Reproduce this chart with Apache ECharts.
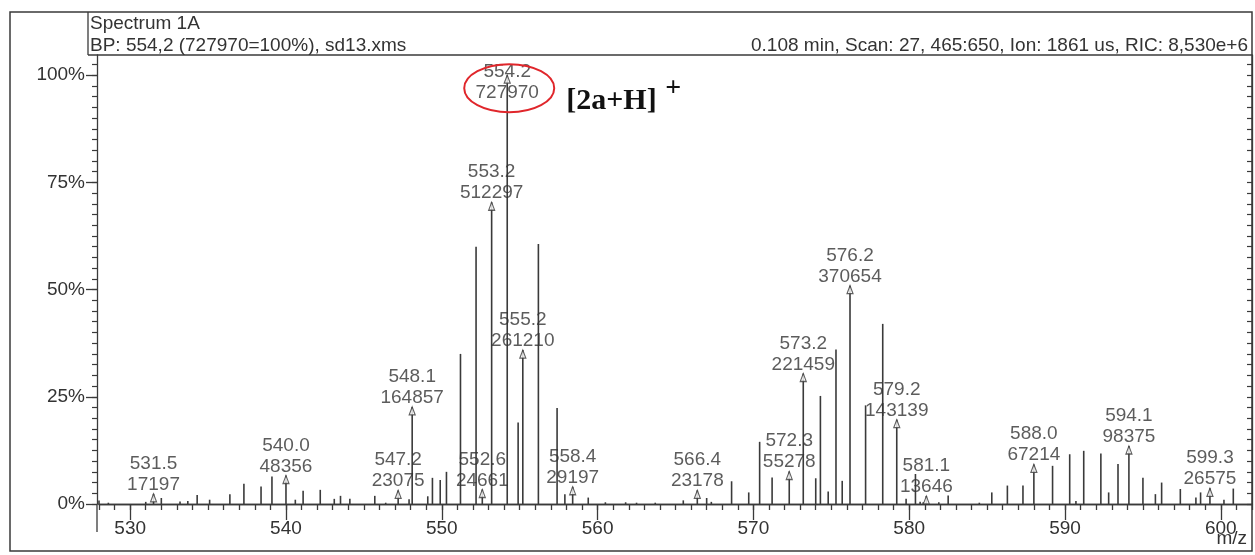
<!DOCTYPE html>
<html><head><meta charset="utf-8">
<script src="https://cdn.jsdelivr.net/npm/echarts@6/dist/echarts.min.js"></script>
<style>html,body{margin:0;padding:0;background:#fff}#c{width:1255px;height:555px}</style>
</head><body><div id="c"></div>
<script>
// ---------- data ----------
const basePeakIntensity = 727970;
// unlabelled sticks: m/z and relative intensity (%)
const peakMz = [528.0,528.6,531.0,532.0,533.2,533.7,534.3,535.1,536.4,537.3,538.4,539.1,540.6,541.1,542.2,543.1,543.5,544.1,545.7,546.4,547.9,549.1,549.4,549.9,550.3,551.2,552.2,554.9,556.2,557.4,557.9,559.4,560.5,561.8,562.5,563.7,565.5,567.0,567.3,568.6,569.7,570.4,571.2,574.0,574.3,574.8,575.3,575.7,577.2,578.3,579.8,580.4,580.7,580.9,581.9,582.5,584.5,585.3,586.3,587.3,589.2,590.3,590.7,591.2,592.3,592.8,593.4,595.0,595.8,596.2,597.4,598.4,598.7,600.2,600.8];
const peakPct = [0.8,0.3,0.5,1.4,0.6,0.7,2.1,1.0,2.3,4.7,4.1,6.4,1.0,3.1,3.3,1.2,1.9,1.2,1.9,0.3,1.1,1.8,6.1,5.6,7.5,35.0,60.0,19.0,60.6,22.4,2.3,1.5,0.4,0.4,0.3,0.3,0.85,1.4,0.5,5.3,2.7,14.5,6.2,6.0,25.2,2.9,36.0,5.4,23.0,42.0,1.2,7.0,0.5,0.4,0.4,2.0,0.3,2.7,4.3,4.3,8.9,11.6,0.7,12.4,11.8,2.7,9.3,6.1,2.3,5.0,3.5,1.5,2.7,1.0,3.6];
// labelled peaks: m/z and absolute intensity
const labelMz = [531.5,540.0,547.2,548.1,552.6,553.2,554.2,555.2,558.4,566.4,572.3,573.2,576.2,579.2,581.1,588.0,594.1,599.3];
const labelIntensity = [17197,48356,23075,164857,24661,512297,727970,261210,29197,23178,55278,221459,370654,143139,13646,67214,98375,26575];
// axis ticks
const xMajorTicks = [530,540,550,560,570,580,590,600];
const yMajorTicks = [0,25,50,75,100];
const xMin = 528, xMax = 602;
const yMax = 104.7;

// ---------- build ----------
const FONT = '"Liberation Sans", Arial, sans-serif';
const INK = '#3a3a3a';
const minorX = []; for (let v = xMin; v <= xMax; v++) minorX.push(v);
const minorY = []; for (let v = 0; v <= 102.5; v += 2.5) minorY.push(v);

const sticks = peakMz.map((m, i) => [m, peakPct[i]]);
labelMz.forEach((m, i) => sticks.push([m, labelIntensity[i] / basePeakIntensity * 100]));

const arrows = labelMz.map((m, i) => {
  const item = { value: [m, labelIntensity[i] / basePeakIntensity * 100, labelIntensity[i]] };
  if (labelIntensity[i] === basePeakIntensity) item.label = { offset: [0, 27] };
  return item;
});

const chart = echarts.init(document.getElementById('c'), null, { renderer: 'canvas' });
const gridLeft = 99, gridRight = 3, gridTop = 55, gridBottom = 51;

const baseX = { type: 'value', min: xMin, max: xMax, gridIndex: 0, splitLine: { show: false } };
const baseY = { type: 'value', min: 0, max: yMax, gridIndex: 0, splitLine: { show: false } };

chart.setOption({
  animation: false,
  backgroundColor: '#fff',
  grid: { left: gridLeft, right: gridRight, top: gridTop, bottom: gridBottom, containLabel: false },
  xAxis: [
    Object.assign({}, baseX, { position: 'bottom', offset: 0,
      axisLine: { show: true, lineStyle: { color: INK, width: 1.3 } },
      axisTick: { show: false }, axisLabel: { show: false } }),
    Object.assign({}, baseX, { position: 'bottom', offset: 11,
      axisLine: { show: true, lineStyle: { color: INK, width: 1.3 } },
      axisTick: { show: true, customValues: minorX, length: 6, lineStyle: { color: INK, width: 1.3 } },
      axisLabel: { show: false } }),
    Object.assign({}, baseX, { position: 'bottom', offset: 11,
      axisLine: { show: false },
      axisTick: { show: true, customValues: xMajorTicks, length: 16, lineStyle: { color: INK, width: 1.3 } },
      axisLabel: { show: true, customValues: xMajorTicks, margin: 4, fontSize: 19, color: '#333', fontFamily: FONT } })
  ],
  yAxis: [
    Object.assign({}, baseY, { position: 'left', offset: 2,
      axisLine: { show: true, lineStyle: { color: INK, width: 1.3 } },
      axisTick: { show: true, customValues: yMajorTicks, length: 11, lineStyle: { color: INK, width: 1.3 } },
      axisLabel: { show: true, customValues: yMajorTicks, margin: 12, fontSize: 19, color: '#333', fontFamily: FONT, formatter: '{value}%' } }),
    Object.assign({}, baseY, { position: 'left', offset: 2,
      axisLine: { show: false },
      axisTick: { show: true, customValues: minorY, length: 5, lineStyle: { color: INK, width: 1.2 } },
      axisLabel: { show: false } }),
    Object.assign({}, baseY, { position: 'right', offset: 0,
      axisLine: { show: true, lineStyle: { color: INK, width: 1.3 } },
      axisTick: { show: true, inside: true, customValues: minorY, length: 5, lineStyle: { color: INK, width: 1.2 } },
      axisLabel: { show: false } })
  ],
  series: [
    { type: 'bar', xAxisIndex: 0, yAxisIndex: 0, data: sticks, barWidth: 1.6,
      itemStyle: { color: INK }, silent: true, z: 2 },
    { type: 'scatter', xAxisIndex: 0, yAxisIndex: 0, data: arrows,
      symbol: 'triangle', symbolSize: [6, 8], symbolOffset: [0, 4],
      itemStyle: { color: '#fff', borderColor: INK, borderWidth: 1.2 }, z: 3,
      label: { show: true, position: 'top', distance: -2, fontSize: 19, lineHeight: 21,
        color: '#333', fontFamily: FONT,
        formatter: p => p.value[0].toFixed(1) + '\n' + p.value[2] } }
  ]
});

// annotations anchored to the base peak through the axes
const bp = chart.convertToPixel({ xAxisIndex: 0, yAxisIndex: 0 }, [554.2, 100]);
chart.setOption({
  graphic: [
    { type: 'rect', shape: { x: 10, y: 12, width: 1242, height: 539 }, style: { fill: null, stroke: INK, lineWidth: 1.5 }, silent: true },
    { type: 'line', shape: { x1: 88, y1: 12, x2: 88, y2: 55 }, style: { stroke: INK, lineWidth: 1.3 } },
    { type: 'line', shape: { x1: 88, y1: 55, x2: 1252, y2: 55 }, style: { stroke: INK, lineWidth: 1.3 } },
    { type: 'line', shape: { x1: gridLeft - 2, y1: 504, x2: gridLeft - 2, y2: 532 }, style: { stroke: INK, lineWidth: 1.3 } },
    { type: 'text', left: 90, top: 14, style: { text: 'Spectrum 1A', font: '19px ' + FONT, fill: '#333' } },
    { type: 'text', left: 90, top: 36, style: { text: 'BP: 554,2 (727970=100%), sd13.xms', font: '19px ' + FONT, fill: '#333' } },
    { type: 'text', right: 7, top: 36, style: { text: '0.108 min, Scan: 27, 465:650, Ion: 1861 us, RIC: 8,530e+6', font: '19px ' + FONT, fill: '#333' } },
    { type: 'text', right: 8, top: 529, style: { text: 'm/z', font: '19px ' + FONT, fill: '#333' } },
    { type: 'ellipse', shape: { cx: bp[0] + 2, cy: bp[1] + 13, rx: 45, ry: 24 }, style: { fill: null, stroke: '#e0262b', lineWidth: 2 }, z: 10 },
    { type: 'text', x: bp[0] + 59, y: bp[1] + 26, style: { text: '[2a+H]', font: 'bold 30px "Liberation Serif", "Times New Roman", serif', fill: '#111', textVerticalAlign: 'middle' }, z: 10 },
    { type: 'text', x: bp[0] + 158, y: bp[1] + 14, style: { text: '+', font: 'bold 28px "Liberation Serif", "Times New Roman", serif', fill: '#111', textVerticalAlign: 'middle' }, z: 10 }
  ]
});
</script>
</body></html>
